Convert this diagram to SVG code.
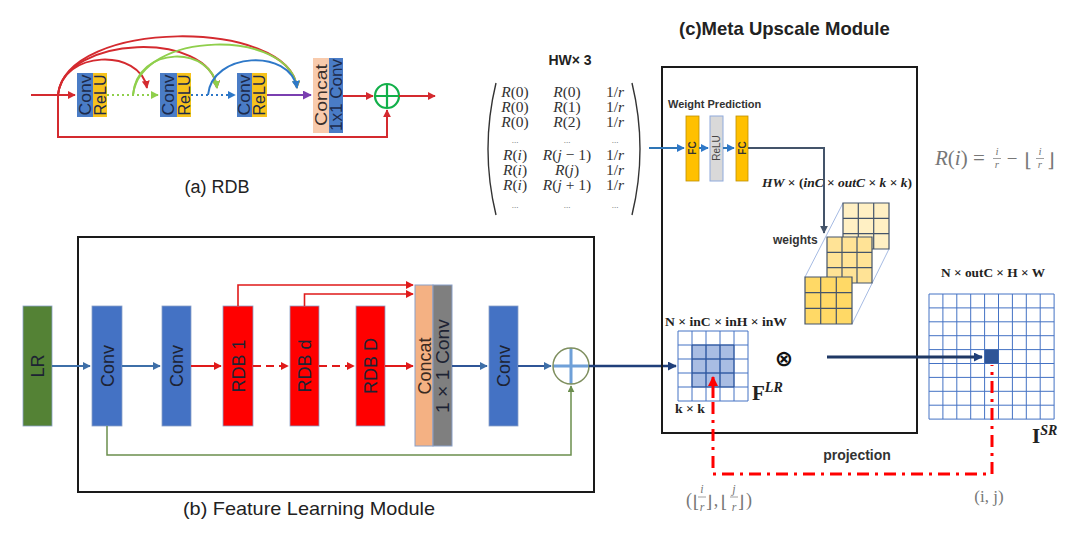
<svg xmlns="http://www.w3.org/2000/svg" width="1080" height="534" viewBox="0 0 1080 534">
<defs>
<style>
.sans{font-family:"Liberation Sans","DejaVu Sans",sans-serif;}
.blk{font-family:"Liberation Sans","DejaVu Sans",sans-serif;font-size:18px;fill:#1d2333;text-anchor:middle;}
.sm{font-family:"Liberation Sans","DejaVu Sans",sans-serif;font-size:16px;fill:#1d2a4a;text-anchor:middle;}
.fc{font-family:"Liberation Sans","DejaVu Sans",sans-serif;font-size:10px;font-weight:bold;fill:#333;text-anchor:middle;}
.mx{font-family:"Liberation Serif","DejaVu Serif",serif;font-size:15.5px;fill:#333;text-anchor:middle;}
.dots{font-family:"Liberation Serif",serif;font-size:9px;fill:#666;text-anchor:middle;}
.it{font-style:italic;}
.sb{font-family:"Liberation Serif","DejaVu Serif",serif;font-weight:bold;font-size:13px;fill:#222;}
.gr{font-family:"Liberation Serif","DejaVu Serif",serif;fill:#777;}
.ln{fill:none;}
.grid{fill:none;stroke:#4472c4;stroke-width:1;}
.wg{fill:none;stroke:#44546a;stroke-width:1.2;}
</style>
<marker id="aR" viewBox="0 0 10 10" refX="9" refY="5" markerWidth="8" markerHeight="8" markerUnits="userSpaceOnUse" orient="auto"><path d="M0,0L10,5L0,10z" fill="#d42a2f"/></marker>
<marker id="aG" viewBox="0 0 10 10" refX="9" refY="5" markerWidth="8" markerHeight="8" markerUnits="userSpaceOnUse" orient="auto"><path d="M0,0L10,5L0,10z" fill="#8fcf4c"/></marker>
<marker id="aB" viewBox="0 0 10 10" refX="9" refY="5" markerWidth="8" markerHeight="8" markerUnits="userSpaceOnUse" orient="auto"><path d="M0,0L10,5L0,10z" fill="#2e78c8"/></marker>
<marker id="aP" viewBox="0 0 10 10" refX="9" refY="5" markerWidth="9" markerHeight="9" markerUnits="userSpaceOnUse" orient="auto"><path d="M0,0L10,5L0,10z" fill="#7a3fb0"/></marker>
<marker id="aF" viewBox="0 0 10 10" refX="9" refY="5" markerWidth="8" markerHeight="8" markerUnits="userSpaceOnUse" orient="auto"><path d="M0,0L10,5L0,10z" fill="#3e6fa8"/></marker>
<marker id="aFR" viewBox="0 0 10 10" refX="9" refY="5" markerWidth="8" markerHeight="8" markerUnits="userSpaceOnUse" orient="auto"><path d="M0,0L10,5L0,10z" fill="#e01a1a"/></marker>
<marker id="aN" viewBox="0 0 10 10" refX="9" refY="5" markerWidth="9" markerHeight="9" markerUnits="userSpaceOnUse" orient="auto"><path d="M0,0L10,5L0,10z" fill="#1f3f7a"/></marker>
<marker id="aS" viewBox="0 0 10 10" refX="9" refY="5" markerWidth="8" markerHeight="8" markerUnits="userSpaceOnUse" orient="auto"><path d="M0,0L10,5L0,10z" fill="#44546a"/></marker>
<marker id="aO" viewBox="0 0 10 10" refX="9" refY="5" markerWidth="7" markerHeight="7" markerUnits="userSpaceOnUse" orient="auto"><path d="M0,0L10,5L0,10z" fill="#6b8e4e"/></marker>
<marker id="aX" viewBox="0 0 10 10" refX="9" refY="5" markerWidth="10" markerHeight="10" markerUnits="userSpaceOnUse" orient="auto"><path d="M0,0L10,5L0,10z" fill="#ff0000"/></marker>
</defs>
<rect width="1080" height="534" fill="#ffffff"/>

<!-- ===== (a) RDB ===== -->
<g id="rdb-block1">
<rect x="77" y="73" width="16" height="44" fill="#4a7cc6"/>
<rect x="93" y="73" width="14" height="44" fill="#f7c21c"/>
<text class="sm" transform="translate(85,95) rotate(-90)" y="5.5" textLength="41" lengthAdjust="spacingAndGlyphs">Conv</text>
<text class="sm" transform="translate(100,95) rotate(-90)" y="5.5" textLength="41" lengthAdjust="spacingAndGlyphs">ReLU</text>
</g>
<g id="rdb-block2">
<rect x="160" y="73" width="17" height="44" fill="#4a7cc6"/>
<rect x="177" y="73" width="14" height="44" fill="#f7c21c"/>
<text class="sm" transform="translate(168.5,95) rotate(-90)" y="5.5" textLength="41" lengthAdjust="spacingAndGlyphs">Conv</text>
<text class="sm" transform="translate(184,95) rotate(-90)" y="5.5" textLength="41" lengthAdjust="spacingAndGlyphs">ReLU</text>
</g>
<g id="rdb-block3">
<rect x="237" y="73" width="15" height="44" fill="#4a7cc6"/>
<rect x="252" y="73" width="15" height="44" fill="#f7c21c"/>
<text class="sm" transform="translate(244.5,95) rotate(-90)" y="5.5" textLength="41" lengthAdjust="spacingAndGlyphs">Conv</text>
<text class="sm" transform="translate(259.5,95) rotate(-90)" y="5.5" textLength="41" lengthAdjust="spacingAndGlyphs">ReLU</text>
</g>
<g id="rdb-concat">
<rect x="313" y="58" width="16" height="75" fill="#f8cbad"/>
<rect x="329" y="58" width="14" height="75" fill="#4a7cc6"/>
<text class="sm" transform="translate(321,95) rotate(-90)" y="5.5" style="fill:#3a302c" textLength="62" lengthAdjust="spacingAndGlyphs">Concat</text>
<text class="sm" transform="translate(336,95) rotate(-90)" y="5.5" textLength="72" lengthAdjust="spacingAndGlyphs">1x1 Conv</text>
</g>
<g id="rdb-add">
<circle cx="387" cy="96" r="12" fill="none" stroke="#12b04a" stroke-width="2.2"/>
<path d="M375,96H399M387,84V108" stroke="#12b04a" stroke-width="2.2"/>
</g>
<text id="rdb-title" class="sans" x="217" y="193" font-size="18" fill="#222" text-anchor="middle">(a) RDB</text>

<g id="rdb-connectors" class="ln" stroke-width="2">
<path d="M31,95H75" stroke="#d42a2f" marker-end="url(#aR)"/>
<path d="M58,95V137H387V110" stroke="#d42a2f" marker-end="url(#aR)"/>
<path d="M343,96H373" stroke="#d42a2f" marker-end="url(#aR)"/>
<path d="M399,96H435" stroke="#d42a2f" marker-end="url(#aR)"/>
<path d="M107,95H158" stroke="#8fcf4c" stroke-dasharray="2,3" marker-end="url(#aG)"/>
<path d="M191,95H235" stroke="#2e78c8" stroke-dasharray="2,3" marker-end="url(#aB)"/>
<path d="M267,95H311" stroke="#7a3fb0" marker-end="url(#aP)"/>
<path d="M58,95C62,50 140,48 147,88" stroke="#d42a2f" marker-end="url(#aR)"/>
<path d="M58,95C64,35 210,30 217,88" stroke="#d42a2f" marker-end="url(#aR)"/>
<path d="M58,95C66,18 290,18 297,88" stroke="#d42a2f" marker-end="url(#aR)"/>
<path d="M133,95C137,45 212,45 217,88" stroke="#8fcf4c" marker-end="url(#aG)"/>
<path d="M133,95C140,30 290,28 297,88" stroke="#8fcf4c" marker-end="url(#aG)"/>
<path d="M208,95C212,52 290,48 297,88" stroke="#2e78c8" marker-end="url(#aB)"/>
</g>

<!-- ===== Matrix ===== -->
<g id="matrix">
<text class="sans" x="570" y="65" font-size="14" font-weight="bold" fill="#222" text-anchor="middle">HW× 3</text>
<path d="M496,83Q480,149 496,215" fill="none" stroke="#333" stroke-width="1.4"/>
<path d="M632,83Q648,149 632,215" fill="none" stroke="#333" stroke-width="1.4"/>
<text class="mx" x="515" y="97"><tspan class="it">R</tspan>(0)</text>
<text class="mx" x="567" y="97"><tspan class="it">R</tspan>(0)</text>
<text class="mx" x="615" y="97">1/<tspan class="it">r</tspan></text>
<text class="mx" x="515" y="112"><tspan class="it">R</tspan>(0)</text>
<text class="mx" x="567" y="112"><tspan class="it">R</tspan>(1)</text>
<text class="mx" x="615" y="112">1/<tspan class="it">r</tspan></text>
<text class="mx" x="515" y="127"><tspan class="it">R</tspan>(0)</text>
<text class="mx" x="567" y="127"><tspan class="it">R</tspan>(2)</text>
<text class="mx" x="615" y="127">1/<tspan class="it">r</tspan></text>
<text class="dots" x="515" y="143">...</text>
<text class="dots" x="567" y="143">...</text>
<text class="dots" x="615" y="143">...</text>
<text class="mx" x="515" y="160"><tspan class="it">R</tspan>(<tspan class="it">i</tspan>)</text>
<text class="mx" x="567" y="160"><tspan class="it">R</tspan>(<tspan class="it">j</tspan> − 1)</text>
<text class="mx" x="615" y="160">1/<tspan class="it">r</tspan></text>
<text class="mx" x="515" y="175"><tspan class="it">R</tspan>(<tspan class="it">i</tspan>)</text>
<text class="mx" x="567" y="175"><tspan class="it">R</tspan>(<tspan class="it">j</tspan>)</text>
<text class="mx" x="615" y="175">1/<tspan class="it">r</tspan></text>
<text class="mx" x="515" y="190"><tspan class="it">R</tspan>(<tspan class="it">i</tspan>)</text>
<text class="mx" x="567" y="190"><tspan class="it">R</tspan>(<tspan class="it">j</tspan> + 1)</text>
<text class="mx" x="615" y="190">1/<tspan class="it">r</tspan></text>
<text class="dots" x="515" y="208">...</text>
<text class="dots" x="567" y="208">...</text>
<text class="dots" x="615" y="208">...</text>
</g>

<!-- ===== (b) Feature Learning ===== -->
<rect id="fl-box" x="78" y="237" width="516" height="255" fill="none" stroke="#1a1a1a" stroke-width="2"/>
<text id="fl-title" class="sans" x="183" y="515" font-size="19" fill="#222" textLength="252" lengthAdjust="spacingAndGlyphs">(b) Feature Learning  Module</text>

<g id="fl-lr">
<rect x="23" y="306" width="29" height="120" fill="#548235" stroke="#8aa0c8" stroke-width="0.8"/>
<text class="blk" transform="translate(37.5,366) rotate(-90)" y="6.5">LR</text>
</g>
<g id="fl-conv1">
<rect x="92" y="306" width="30" height="120" fill="#4472c4" stroke="#8aa0c8" stroke-width="0.8"/>
<text class="blk" transform="translate(107,366) rotate(-90)" y="6.5">Conv</text>
</g>
<g id="fl-conv2">
<rect x="162" y="306" width="29" height="120" fill="#4472c4" stroke="#8aa0c8" stroke-width="0.8"/>
<text class="blk" transform="translate(176.5,366) rotate(-90)" y="6.5">Conv</text>
</g>
<g id="fl-rdb1">
<rect x="223" y="306" width="30" height="120" fill="#ff0000" stroke="#8aa0c8" stroke-width="0.8"/>
<text class="blk" transform="translate(238,366) rotate(-90)" y="6.5">RDB 1</text>
</g>
<g id="fl-rdbd">
<rect x="290" y="306" width="29" height="120" fill="#ff0000" stroke="#8aa0c8" stroke-width="0.8"/>
<text class="blk" transform="translate(304.5,366) rotate(-90)" y="6.5">RDB d</text>
</g>
<g id="fl-rdbD">
<rect x="356" y="306" width="29" height="120" fill="#ff0000" stroke="#8aa0c8" stroke-width="0.8"/>
<text class="blk" transform="translate(370.5,366) rotate(-90)" y="6.5">RDB D</text>
</g>
<g id="fl-concat">
<rect x="415" y="285" width="18" height="161" fill="#f4b183" stroke="#8aa0c8" stroke-width="1"/>
<rect x="433" y="285" width="19" height="161" fill="#7f7f7f" stroke="#8aa0c8" stroke-width="1"/>
<text class="blk" transform="translate(424,366) rotate(-90)" y="6.5" style="fill:#3a2a22">Concat</text>
<text class="blk" transform="translate(442.5,366) rotate(-90)" y="6.5" textLength="94" lengthAdjust="spacingAndGlyphs">1 × 1 Conv</text>
</g>
<g id="fl-conv3">
<rect x="489" y="306" width="29" height="120" fill="#4472c4" stroke="#8aa0c8" stroke-width="0.8"/>
<text class="blk" transform="translate(503.5,366) rotate(-90)" y="6.5">Conv</text>
</g>
<g id="fl-add">
<path d="M553,366H589M571,348V384" stroke="#6fa0d8" stroke-width="3"/>
<circle cx="571" cy="366" r="18" fill="none" stroke="#7f8f5f" stroke-width="1.5"/>
</g>

<g id="fl-connectors" class="ln" stroke-width="2">
<path d="M52,366H90" stroke="#3e6fa8" marker-end="url(#aF)"/>
<path d="M122,366H160" stroke="#3e6fa8" marker-end="url(#aF)"/>
<path d="M191,366H221" stroke="#e01a1a" marker-end="url(#aFR)"/>
<path d="M253,366H288" stroke="#e01a1a" stroke-dasharray="8,5" marker-end="url(#aFR)"/>
<path d="M319,366H354" stroke="#e01a1a" stroke-dasharray="8,5" marker-end="url(#aFR)"/>
<path d="M385,366H413" stroke="#e01a1a" marker-end="url(#aFR)"/>
<path d="M238,306V285H413" stroke="#e01a1a" stroke-width="1.6" marker-end="url(#aFR)"/>
<path d="M304.5,306V294H413" stroke="#e01a1a" stroke-width="1.6" marker-end="url(#aFR)"/>
<path d="M452,366H487" stroke="#2f5597" marker-end="url(#aF)"/>
<path d="M518,366H551" stroke="#2f5597" marker-end="url(#aF)"/>
<path d="M107,426V455H571V386" stroke="#6b8e4e" stroke-width="1.5" marker-end="url(#aO)"/>
<path d="M589,366H676" stroke="#1f3f7a" stroke-width="2.5" marker-end="url(#aN)"/>
</g>

<!-- ===== (c) Meta Upscale ===== -->
<text id="meta-title" class="sans" x="679" y="35" font-size="18.5" font-weight="bold" fill="#222">(c)Meta Upscale Module</text>
<rect id="meta-box" x="662" y="67" width="255" height="366" fill="none" stroke="#1a1a1a" stroke-width="2"/>
<text id="wp-label" class="sans" x="668" y="108" font-size="11" font-weight="bold" fill="#333">Weight Prediction</text>

<g id="wp-fc1">
<rect x="686" y="116" width="13" height="65" fill="#ffc000" stroke="#bf9000" stroke-width="0.8"/>
<text class="fc" transform="translate(692.5,148) rotate(-90)" y="3.5">FC</text>
</g>
<g id="wp-relu">
<rect x="710" y="116" width="13" height="65" fill="#d9d9d9" stroke="#8faadc" stroke-width="1"/>
<text class="fc" transform="translate(716.5,148) rotate(-90)" y="3.5" style="font-weight:normal;fill:#444">ReLU</text>
</g>
<g id="wp-fc2">
<rect x="736" y="116" width="12" height="65" fill="#ffc000" stroke="#bf9000" stroke-width="0.8"/>
<text class="fc" transform="translate(742,148) rotate(-90)" y="3.5">FC</text>
</g>
<text id="wp-dim" x="762" y="187" font-family="Liberation Serif,serif" font-size="11.5" font-weight="bold" fill="#222" textLength="150" lengthAdjust="spacingAndGlyphs"><tspan font-style="italic">HW</tspan> × (<tspan font-style="italic">inC</tspan> × <tspan font-style="italic">outC</tspan>  × <tspan font-style="italic">k</tspan> × <tspan font-style="italic">k</tspan>)</text>

<g id="weights">
<path d="M805,277L843,203M852,324L889,249" stroke="#8faadc" stroke-width="0.8" fill="none"/>
<rect x="843" y="203" width="46" height="46" fill="#fff0c4"/>
<path class="wg" d="M843,203h46v46h-46zM858.3,203v46M873.7,203v46M843,218.3h46M843,233.7h46"/>
<rect x="827" y="237" width="45" height="46" fill="#ffe396"/>
<path class="wg" d="M827,237h45v46h-45zM842,237v46M857,237v46M827,252.3h45M827,267.7h45"/>
<rect x="805" y="277" width="47" height="47" fill="#ffd966"/>
<path class="wg" d="M805,277h47v47h-47zM820.7,277v47M836.3,277v47M805,292.7h47M805,308.3h47"/>
<text class="sans" x="773" y="244" font-size="12" font-weight="bold" fill="#333">weights</text>
</g>

<g id="feature-map">
<text class="sb" x="665" y="326" textLength="122" lengthAdjust="spacingAndGlyphs">N × inC  × inH × inW</text>
<rect x="678" y="331" width="70" height="70" fill="#ffffff"/>
<rect x="692" y="345" width="42" height="42" fill="#a9bde3"/>
<path class="grid" d="M678,331h70v70h-70zM692,331v70M706,331v70M720,331v70M734,331v70M678,345h70M678,359h70M678,373h70M678,387h70"/>
<path d="M692,345h42v42h-42zM706,345v42M720,345v42M692,359h42M692,373h42" fill="none" stroke="#2f5597" stroke-width="1"/>
<text class="sb" x="675" y="413" textLength="30" lengthAdjust="spacingAndGlyphs">k × k</text>
<text x="752" y="400" font-family="Liberation Serif,serif" font-size="21" font-weight="bold" fill="#222">F<tspan font-size="14" font-style="italic" dy="-8">LR</tspan></text>
</g>

<text id="mult" x="784" y="366" font-family="DejaVu Sans,sans-serif" font-size="22" font-weight="bold" fill="#111" text-anchor="middle">⊗</text>

<g id="sr-map">
<text class="sb" x="993" y="277" text-anchor="middle" textLength="104" lengthAdjust="spacingAndGlyphs">N × outC  × H × W</text>
<path class="grid" d="M929,294h125.1v125.1h-125.1zM942.9,294v125.1M956.8,294v125.1M970.7,294v125.1M984.6,294v125.1M998.5,294v125.1M1012.4,294v125.1M1026.3,294v125.1M1040.2,294v125.1M929,307.9h125.1M929,321.8h125.1M929,335.7h125.1M929,349.6h125.1M929,363.5h125.1M929,377.4h125.1M929,391.3h125.1M929,405.2h125.1"/>
<rect x="984.6" y="349.6" width="13.9" height="13.9" fill="#2f5597"/>
<text x="1032" y="443" font-family="Liberation Serif,serif" font-size="21" font-weight="bold" fill="#222">I<tspan font-size="14" font-style="italic" dy="-8">SR</tspan></text>
</g>

<g id="formula" class="gr">
<text x="935" y="165" font-size="21"><tspan font-style="italic">R</tspan>(<tspan font-style="italic">i</tspan>) =</text>
<text x="997" y="155" font-size="11" font-style="italic" text-anchor="middle">i</text>
<path d="M993,158.5H1001" stroke="#888" stroke-width="0.8"/>
<text x="997" y="168" font-size="11" font-style="italic" text-anchor="middle">r</text>
<text x="1012" y="165" font-size="19" text-anchor="middle">−</text>
<text x="1028" y="167" font-size="19" text-anchor="middle">⌊</text>
<text x="1040" y="155" font-size="11" font-style="italic" text-anchor="middle">i</text>
<path d="M1036,158.5H1044" stroke="#888" stroke-width="0.8"/>
<text x="1040" y="168" font-size="11" font-style="italic" text-anchor="middle">r</text>
<text x="1051" y="167" font-size="19" text-anchor="middle">⌋</text>
</g>

<g id="meta-connectors" class="ln">
<path d="M649,148H684" stroke="#2e75b6" stroke-width="2" marker-end="url(#aB)"/>
<path d="M699,148H708" stroke="#2e75b6" stroke-width="2" marker-end="url(#aB)"/>
<path d="M723,148H734" stroke="#2e75b6" stroke-width="2" marker-end="url(#aB)"/>
<path d="M748,148H824V233" stroke="#44546a" stroke-width="2" marker-end="url(#aS)"/>
<path d="M827,357H982" stroke="#1f3864" stroke-width="3" marker-end="url(#aN)"/>
<path d="M713,398V377" stroke="#ff0000" stroke-width="3" marker-end="url(#aX)"/>
<path d="M713,402V474H992V365" stroke="#ff0000" stroke-width="3" stroke-dasharray="12,6,3,6"/>
</g>

<text id="proj-label" class="sans" x="857" y="460" font-size="14" font-weight="bold" fill="#333" text-anchor="middle">projection</text>

<g id="coord-lr" class="gr">
<text x="689" y="506" font-size="18" text-anchor="middle">(</text>
<text x="696" y="508" font-size="17" text-anchor="middle">⌊</text>
<text x="702" y="493" font-size="12" font-style="italic" text-anchor="middle">i</text>
<path d="M698,497H706" stroke="#888" stroke-width="0.8"/>
<text x="702" y="511" font-size="12" font-style="italic" text-anchor="middle">r</text>
<text x="709" y="508" font-size="17" text-anchor="middle">⌋</text>
<text x="716" y="506" font-size="18" text-anchor="middle">,</text>
<text x="724" y="508" font-size="17" text-anchor="middle">⌊</text>
<text x="734" y="493" font-size="12" font-style="italic" text-anchor="middle">j</text>
<path d="M730,497H738" stroke="#888" stroke-width="0.8"/>
<text x="734" y="511" font-size="12" font-style="italic" text-anchor="middle">r</text>
<text x="741" y="508" font-size="17" text-anchor="middle">⌋</text>
<text x="749" y="506" font-size="18" text-anchor="middle">)</text>
</g>
<text id="coord-sr" class="gr" x="989" y="502" font-size="17" text-anchor="middle">(i, j)</text>
</svg>
